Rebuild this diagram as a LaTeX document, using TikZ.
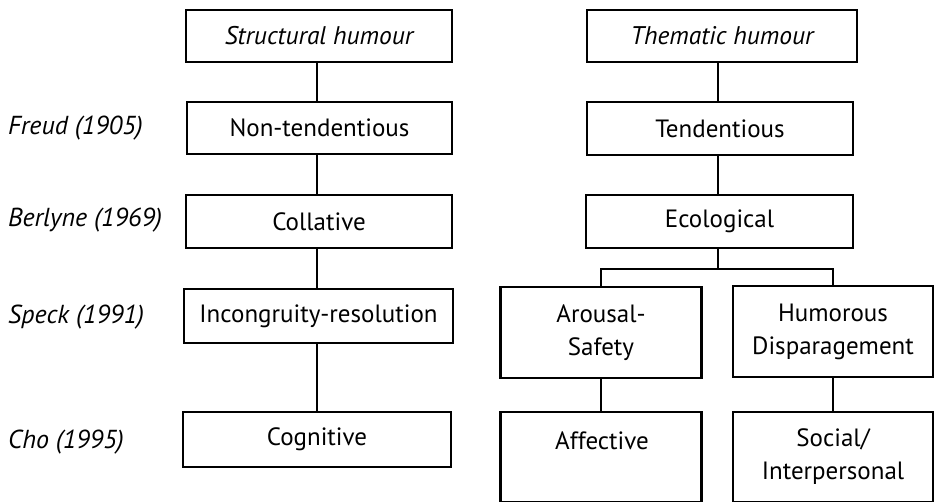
\documentclass[tikz,border=0pt]{standalone}
\usepackage{fontspec}
\setmainfont{PT Sans}
\begin{document}
\begin{tikzpicture}[x=1pt,y=-1pt,
  box/.style={draw,line width=2.5pt,inner sep=0pt,align=center,font=\fontsize{25}{33}\selectfont},
  lbl/.style={anchor=west,inner sep=0pt,font=\fontsize{26}{30}\selectfont\itshape},
  conn/.style={line width=2.4pt}]
\useasboundingbox (0,0) rectangle (941,501);
% left column
\node[box,minimum width=266,minimum height=52,font=\fontsize{25.5}{30}\selectfont\itshape] (sh) at (319,36) {Structural humour};
\node[box,minimum width=265,minimum height=52] (nt) at (319.5,128) {Non-tendentious};
\node[box,minimum width=266,minimum height=53] (co) at (319,221.5) {Collative};
\node[box,minimum width=269,minimum height=54] (ir) at (318.5,316) {Incongruity-resolution};
\node[box,minimum width=268,minimum height=55] (cg) at (317,439.5) {Cognitive};
% right column
\node[box,minimum width=270,minimum height=52,font=\fontsize{25.5}{30}\selectfont\itshape] (th) at (722,36) {Thematic humour};
\node[box,minimum width=266,minimum height=53] (te) at (720,128.5) {Tendentious};
\node[box,minimum width=267,minimum height=53] (ec) at (719.5,221.5) {Ecological};
\node[box,minimum width=201,minimum height=91] (ar) at (601,332.5) {Arousal-\\Safety};
\node[box,minimum width=200,minimum height=91] (hd) at (833,331.5) {Humorous\\Disparagement};
\node[box,minimum width=201,minimum height=90] (af) at (601,457) {};
\node[inner sep=0pt,font=\fontsize{25}{33}\selectfont] (aft) at (602,441) {Affective};
\node[box,minimum width=200,minimum height=90] (si) at (833,457) {Social/\\Interpersonal};
% labels
\node[lbl] (l1) at (8,128) {Freud (1905)};
\node[lbl] (l2) at (8,220) {Berlyne (1969)};
\node[lbl] (l3) at (8,317) {Speck (1991)};
\node[lbl] (l4) at (8,442) {Cho (1995)};
% connectors
\draw[conn] (sh.south -| 317,0) -- (nt.north -| 317,0);
\draw[conn] (nt.south -| 317,0) -- (co.north -| 317,0);
\draw[conn] (co.south -| 317,0) -- (ir.north -| 317,0);
\draw[conn] (ir.south -| 317,0) -- (cg.north -| 317,0);
\draw[conn] (th.south -| 718,0) -- (te.north -| 718,0);
\draw[conn] (te.south -| 718,0) -- (ec.north -| 718,0);
\draw[conn] (ec.south -| 718,0) -- (718,269) coordinate (br);
\draw[conn] (ar.north) |- (br) -| (hd.north);
\draw[conn] (ar.south) -- (af.north);
\draw[conn] (hd.south) -- (si.north);
\end{tikzpicture}
\end{document}
